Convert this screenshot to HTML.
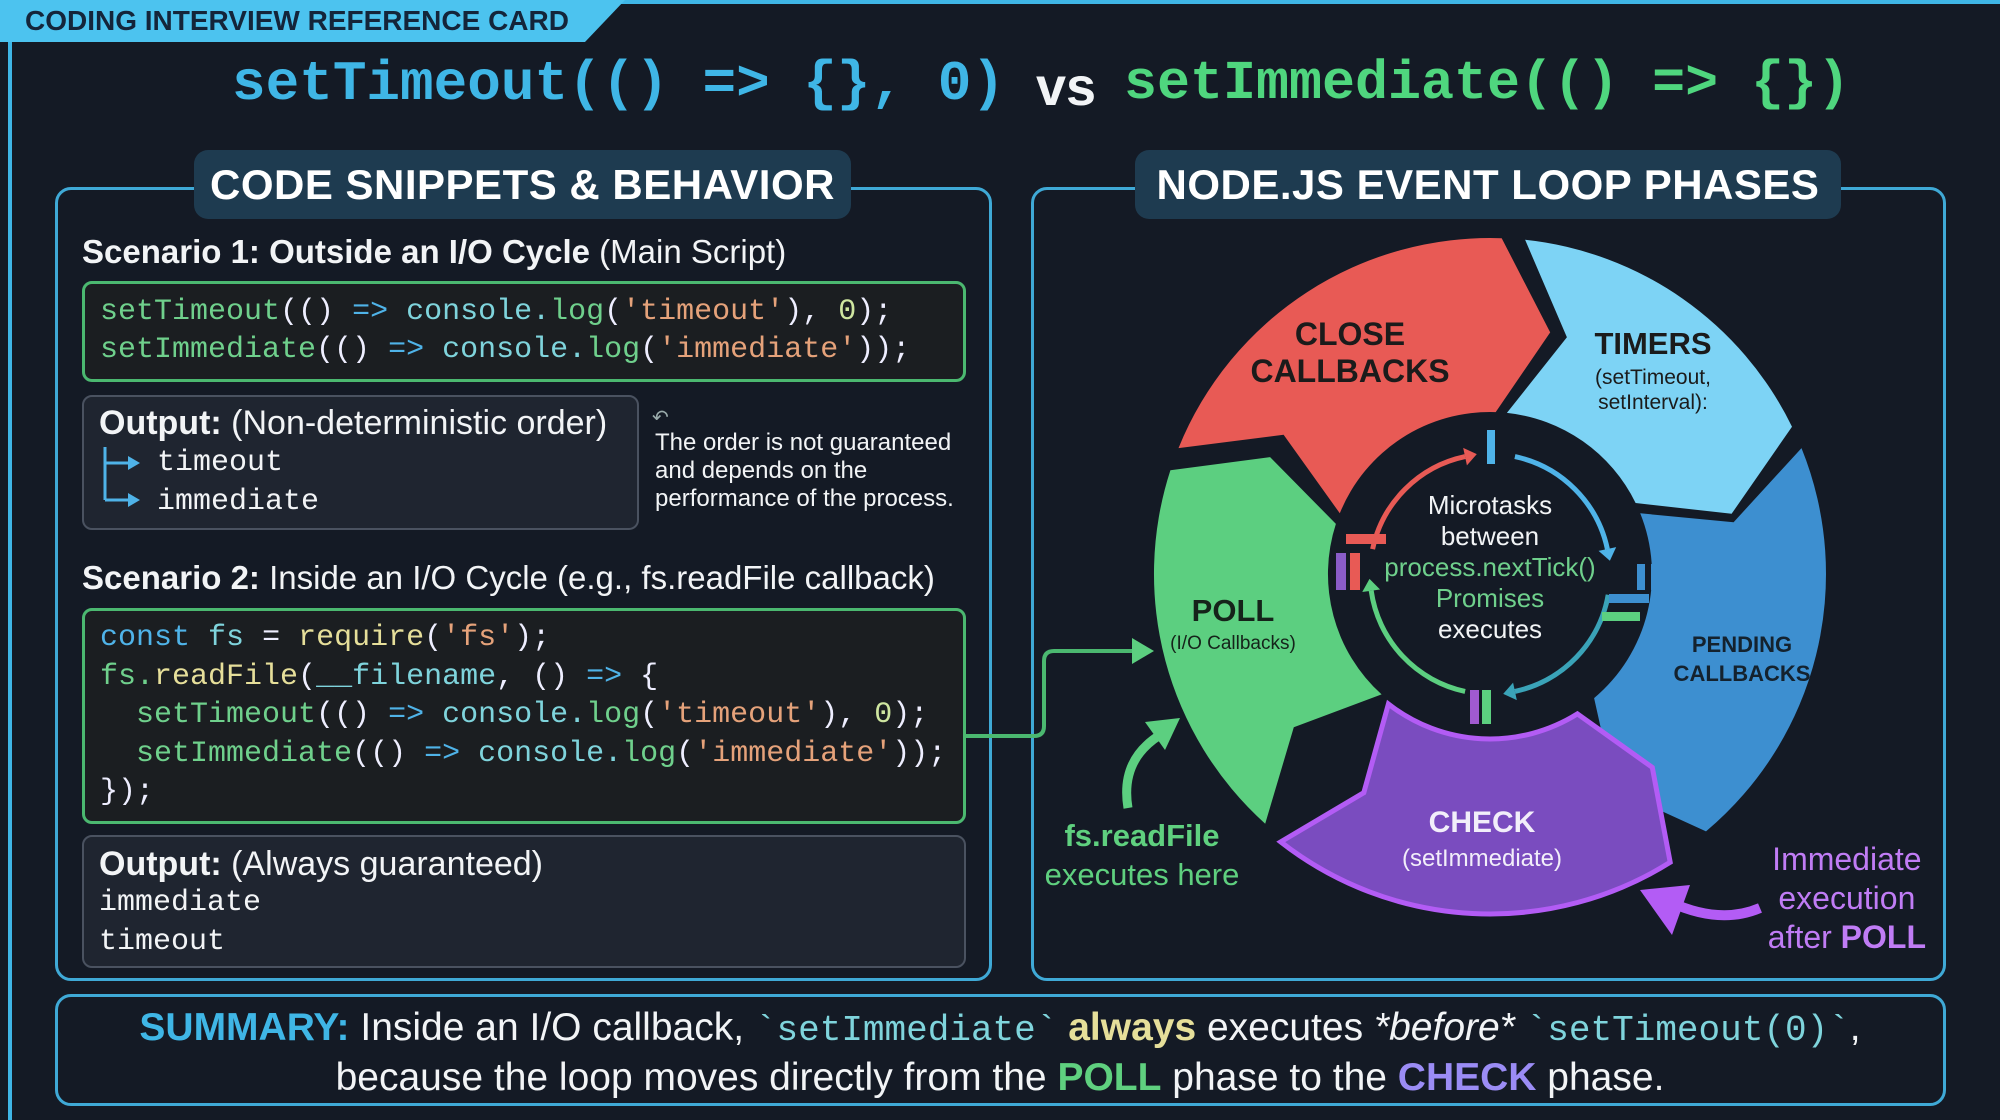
<!DOCTYPE html>
<html><head><meta charset="utf-8">
<style>
*{margin:0;padding:0;box-sizing:border-box}
body{width:2000px;height:1116px;background:#141a25;position:relative;overflow:hidden;font-family:"Liberation Sans",sans-serif;color:#f2f4f6}
.a{position:absolute;white-space:nowrap}
.mono{font-family:"Liberation Mono",monospace}
.panel{position:absolute;border:3px solid #3fa9d6;border-radius:16px}
.hdr{position:absolute;background:#1e3b50;border-radius:14px;color:#fff;font-weight:bold;font-size:42px;text-align:center;line-height:69px;letter-spacing:0.5px}
.code{position:absolute;background:#1b1e21;border:3px solid #4bb870;border-radius:10px}
.out{position:absolute;background:#1f2530;border:2px solid #4a5260;border-radius:10px}
.g{color:#6fd08c}.b{color:#4fb3e8}.t{color:#7fd4dc}.s{color:#e5a27a}.y{color:#e6df9a}.n{color:#cfe6a0}.w{color:#eef}
</style></head><body>
<!-- frame -->
<div class="a" style="left:0;top:0;width:2000px;height:4px;background:#3fb6e6"></div>
<div class="a" style="left:8px;top:30px;width:4px;height:1090px;background:#3fb6e6"></div>
<svg class="a" style="left:0;top:0" width="640" height="44"><polygon points="0,0 625,0 585,42 0,42" fill="#4cc3ef"/></svg>
<div class="a" style="left:25px;top:5px;font-size:28px;font-weight:bold;color:#14253a">CODING INTERVIEW REFERENCE CARD</div>
<!-- title -->
<div class="a mono" style="left:232px;top:52px;font-size:56px;font-weight:bold;color:#3fb6e6">setTimeout(() =&gt; {}, 0)</div>
<div class="a" style="left:1036px;top:56px;font-size:54px;font-weight:bold;color:#f2f4f6">vs</div>
<div class="a mono" style="left:1124px;top:52px;font-size:55px;font-weight:bold;color:#4fd67e">setImmediate(() =&gt; {})</div>

<!-- left panel -->
<div class="panel" style="left:55px;top:187px;width:937px;height:794px"></div>
<div class="hdr" style="left:194px;top:150px;width:657px;height:69px">CODE SNIPPETS &amp; BEHAVIOR</div>
<div class="a" style="left:82px;top:233px;font-size:33px"><b>Scenario 1: Outside an I/O Cycle</b> (Main Script)</div>
<div class="code" style="left:82px;top:281px;width:884px;height:101px"></div>
<div class="a mono" style="left:100px;top:293px;font-size:30px;line-height:38px"><span class="g">setTimeout</span><span class="w">(()</span> <span class="b">=&gt;</span> <span class="t">console.</span><span class="g">log</span><span class="w">(</span><span class="s">'timeout'</span><span class="w">), </span><span class="n">0</span><span class="w">);</span><br><span class="g">setImmediate</span><span class="w">(()</span> <span class="b">=&gt;</span> <span class="t">console.</span><span class="g">log</span><span class="w">(</span><span class="s">'immediate'</span><span class="w">));</span></div>
<div class="out" style="left:82px;top:395px;width:557px;height:135px"></div>
<div class="a" style="left:99px;top:404px;font-size:34px"><b>Output:</b> (Non-deterministic order)</div>
<svg class="a" style="left:100px;top:445px" width="50" height="70"><path d="M5,2 V55 M5,18 H30 M5,55 H30" stroke="#4fb3e8" stroke-width="3" fill="none"/><polygon points="28,11 40,18 28,25" fill="#4fb3e8"/><polygon points="28,48 40,55 28,62" fill="#4fb3e8"/></svg>
<div class="a mono" style="left:157px;top:444px;font-size:30px;line-height:39px">timeout<br>immediate</div>
<div class="a" style="left:655px;top:429px;font-size:24px;line-height:28px">The order is not guaranteed<br>and depends on the<br>performance of the process.</div>
<div class="a" style="left:652px;top:405px;font-size:20px;color:#9aa">↶</div>

<div class="a" style="left:82px;top:559px;font-size:33px"><b>Scenario 2:</b> Inside an I/O Cycle (e.g., fs.readFile callback)</div>
<div class="code" style="left:82px;top:608px;width:884px;height:216px"></div>
<div class="a mono" style="left:100px;top:619px;font-size:30px;line-height:38.5px"><span class="b">const</span> <span class="t">fs</span> <span class="w">=</span> <span class="y">require</span><span class="w">(</span><span class="s">'fs'</span><span class="w">);</span><br><span class="g">fs.</span><span class="y">readFile</span><span class="w">(</span><span class="t">__filename</span><span class="w">, ()</span> <span class="b">=&gt;</span> <span class="w">{</span><br>&nbsp;&nbsp;<span class="g">setTimeout</span><span class="w">(()</span> <span class="b">=&gt;</span> <span class="t">console.</span><span class="g">log</span><span class="w">(</span><span class="s">'timeout'</span><span class="w">), </span><span class="n">0</span><span class="w">);</span><br>&nbsp;&nbsp;<span class="g">setImmediate</span><span class="w">(()</span> <span class="b">=&gt;</span> <span class="t">console.</span><span class="g">log</span><span class="w">(</span><span class="s">'immediate'</span><span class="w">));</span><br><span class="w">});</span></div>
<div class="out" style="left:82px;top:835px;width:884px;height:133px"></div>
<div class="a" style="left:99px;top:845px;font-size:34px"><b>Output:</b> (Always guaranteed)</div>
<div class="a mono" style="left:99px;top:884px;font-size:30px;line-height:39px">immediate<br>timeout</div>

<!-- right panel -->
<div class="panel" style="left:1031px;top:187px;width:915px;height:794px"></div>
<div class="hdr" style="left:1135px;top:150px;width:706px;height:69px">NODE.JS EVENT LOOP PHASES</div>
<svg id="ring" class="a" style="left:0;top:0" width="2000" height="1116"></svg>

<div class="a" style="left:1350px;top:316px;transform:translateX(-50%);font-size:32px;font-weight:bold;color:#1b1b1b;text-align:center;line-height:37px">CLOSE<br>CALLBACKS</div>
<div class="a" style="left:1653px;top:326px;transform:translateX(-50%);font-size:31px;font-weight:bold;color:#1b1b1b;text-align:center">TIMERS</div>
<div class="a" style="left:1653px;top:365px;transform:translateX(-50%);font-size:21px;color:#1b1b1b;text-align:center;line-height:25px">(setTimeout,<br>setInterval):</div>
<div class="a" style="left:1742px;top:630px;transform:translateX(-50%);font-size:22px;font-weight:bold;color:#14222e;text-align:center;line-height:29px">PENDING<br>CALLBACKS</div>
<div class="a" style="left:1482px;top:806px;transform:translateX(-50%);font-size:30px;font-weight:bold;color:#f2eefa">CHECK</div>
<div class="a" style="left:1482px;top:845px;transform:translateX(-50%);font-size:24px;color:#f2eefa">(setImmediate)</div>
<div class="a" style="left:1233px;top:593px;transform:translateX(-50%);font-size:31px;font-weight:bold;color:#15231a">POLL</div>
<div class="a" style="left:1233px;top:633px;transform:translateX(-50%);font-size:19px;color:#15231a">(I/O Callbacks)</div>
<div class="a" style="left:1490px;top:490px;transform:translateX(-50%);font-size:26px;text-align:center;line-height:31px">Microtasks<br>between<br><span style="color:#6fd08c">process.nextTick()<br>Promises</span><br>executes</div>
<div class="a" style="left:1142px;top:816px;transform:translateX(-50%);font-size:31px;text-align:center;line-height:39px;color:#5fd07f"><b>fs.readFile</b><br>executes here</div>
<div class="a" style="left:1926px;top:840px;transform:translateX(-100%);font-size:32px;text-align:center;line-height:39px;color:#c07cf5">Immediate<br>execution<br>after <b>POLL</b></div>

<!-- summary -->
<div class="panel" style="left:55px;top:994px;width:1891px;height:112px"></div>
<div class="a" style="left:1000px;top:1004px;transform:translateX(-50%);font-size:39px;text-align:center;line-height:47px"><b style="color:#3fb6e6">SUMMARY:</b> Inside an I/O callback, <span class="mono" style="color:#7fd4dc;font-size:36px">`setImmediate`</span> <b style="color:#e6df9a">always</b> executes <i>*before*</i> <span class="mono" style="color:#7fd4dc;font-size:36px">`setTimeout(0)`</span>,<br>because the loop moves directly from the <b style="color:#5fd07f">POLL</b> phase to the <b style="color:#9b8cf5">CHECK</b> phase.</div>

<script>
(function(){
var cx=1490,cy=574,ri=162,ro=336,s=document.getElementById('ring'),h='';
function p(a,r){a=a*Math.PI/180;return (cx+r*Math.sin(a)).toFixed(1)+','+(cy-r*Math.cos(a)).toFixed(1);}
function seg(a0,a1,col,tip,rin,rout,stroke){
 rin=rin||ri;rout=rout||ro;var rm=(rin+rout)/2;
 var d='M'+p(a0,rout)+' A'+rout+','+rout+' 0 0 1 '+p(a1,rout)+' L'+p(a1+tip,rm)+' L'+p(a1,rin)+' A'+rin+','+rin+' 0 0 0 '+p(a0,rin)+' L'+p(a0+tip,rm)+' Z';
 h+='<path d="'+d+'" fill="'+col+'"'+(stroke?' stroke="'+stroke+'" stroke-width="5"':'')+'/>';
}
seg(-68,2,'#e85a55',12);
seg(6,64,'#7dd3f5',12);
seg(68,140,'#3d8fd0',10);
seg(148,218,'#7a4cbf',-8,165,340,'#b35cf5');
seg(222,288,'#5ccf80',10);
var r2=120;
function arc(a0,a1,col){h+='<path d="M'+p(a0,r2)+' A'+r2+','+r2+' 0 0 1 '+p(a1,r2)+'" stroke="'+col+'" stroke-width="5" fill="none"/>';
 var a=a1*Math.PI/180,tx=cx+r2*Math.sin(a),ty=cy-r2*Math.cos(a),dx=Math.cos(a),dy=Math.sin(a);
 h+='<polygon points="'+(tx+dx*12)+','+(ty+dy*12)+' '+(tx-dy*9)+','+(ty+dx*9)+' '+(tx+dy*9)+','+(ty-dx*9)+'" fill="'+col+'"/>';}
arc(12,78,'#4fb3e8');arc(100,168,'#3aa3b8');arc(192,262,'#5ccf80');arc(282,348,'#e85a55');
h+='<rect x="1487" y="430" width="8" height="34" fill="#4fb3e8"/>';
h+='<rect x="1637" y="564" width="8" height="26" fill="#3d8fd0"/><rect x="1651" y="564" width="8" height="26" fill="#3d8fd0"/><rect x="1609" y="594" width="40" height="9" fill="#3d8fd0"/><rect x="1602" y="612" width="38" height="9" fill="#5ccf80"/>';
h+='<rect x="1470" y="690" width="9" height="34" fill="#a05ad0"/><rect x="1482" y="690" width="9" height="34" fill="#5ccf80"/>';
h+='<rect x="1346" y="534" width="40" height="10" fill="#e85a55"/><rect x="1336" y="553" width="10" height="37" fill="#8a5cc8"/><rect x="1350" y="553" width="10" height="37" fill="#e85a55"/>';
h+='<path d="M966,736 H1034 Q1044,736 1044,726 V661 Q1044,651 1054,651 H1135" stroke="#4bb870" stroke-width="4" fill="none"/><polygon points="1132,638 1154,651 1132,664" fill="#5ccf80"/>';
h+='<path d="M1128,808 Q1120,760 1160,735" stroke="#5ccf80" stroke-width="9" fill="none"/><polygon points="1145,722 1180,718 1165,750" fill="#5ccf80"/>';
h+='<path d="M1760,908 Q1720,925 1670,902" stroke="#b35cf5" stroke-width="10" fill="none"/><polygon points="1640,890 1690,885 1672,935" fill="#b35cf5"/>';
s.innerHTML=h;
})();
</script>
</body></html>
